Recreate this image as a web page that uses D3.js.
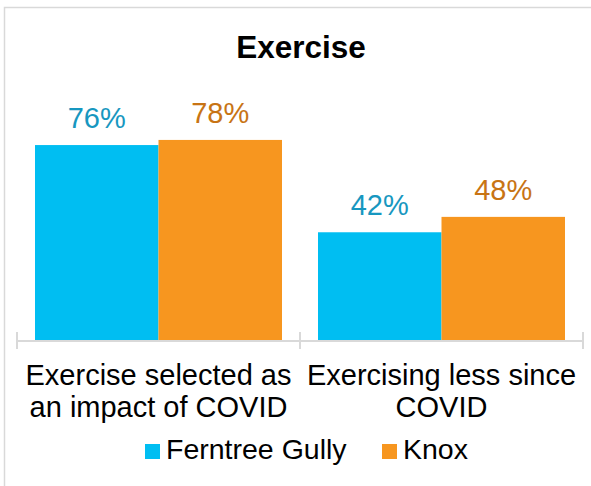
<!DOCTYPE html>
<html>
<head>
<meta charset="utf-8">
<script src="https://cdn.jsdelivr.net/npm/d3@7"></script>
<style>
  html, body { margin: 0; padding: 0; background: #fff; }
  svg { display: block; font-family: "Liberation Sans", Arial, sans-serif; }
</style>
</head>
<body>
<svg id="chart" width="591" height="486"></svg>
<script>
const title = "Exercise";
const categories = [
  ["Exercise selected as", "an impact of COVID"],
  ["Exercising less since", "COVID"]
];
const seriesNames = ["Ferntree Gully", "Knox"];
const ferntreeGully = [0.76, 0.42];
const knox = [0.78, 0.48];
const barColors = ["#00BEF2", "#F7961F"];
const labelColors = ["#1797C0", "#C87414"];

const svg = d3.select("#chart");

// chart border
svg.append("rect")
  .attr("x", 4.5).attr("y", 7.5)
  .attr("width", 620).attr("height", 520)
  .attr("fill", "none").attr("stroke", "#d9d9d9").attr("stroke-width", 1.5);

// title
svg.append("text")
  .attr("x", 301).attr("y", 57.5)
  .attr("text-anchor", "middle")
  .attr("font-size", 31.5).attr("font-weight", "bold")
  .attr("fill", "#000")
  .text(title);

const idx = d3.range(categories.length);
const x0 = d3.scaleBand().domain(idx).range([17, 583]).paddingInner(0).paddingOuter(0);
const x1 = d3.scaleBand().domain(d3.range(seriesNames.length))
  .range([18, x0.bandwidth() - 18]);
const y = d3.scaleLinear().domain([0, 1]).range([340, 83.5]);

const series = [ferntreeGully, knox];

const groups = svg.append("g").selectAll("g")
  .data(idx).join("g")
  .attr("transform", i => `translate(${x0(i)},0)`);

groups.selectAll("rect")
  .data(i => series.map((s, k) => ({ k, v: s[i] })))
  .join("rect")
  .attr("x", d => x1(d.k))
  .attr("y", d => y(d.v))
  .attr("width", x1.bandwidth())
  .attr("height", d => y(0) - y(d.v))
  .attr("fill", d => barColors[d.k]);

groups.selectAll("text.val")
  .data(i => series.map((s, k) => ({ k, v: s[i] })))
  .join("text")
  .attr("class", "val")
  .attr("x", d => x1(d.k) + x1.bandwidth() / 2)
  .attr("y", d => y(d.v) - 17)
  .attr("text-anchor", "middle")
  .attr("font-size", 29)
  .attr("fill", d => labelColors[d.k])
  .text(d => d3.format(".0%")(d.v));

// axis line and ticks at category boundaries
const axis = svg.append("g");
axis.append("line")
  .attr("x1", x0.range()[0]).attr("x2", x0.range()[1])
  .attr("y1", y(0) + 1).attr("y2", y(0) + 1)
  .attr("stroke", "#d9d9d9").attr("stroke-width", 2);
const tickPos = idx.map(i => x0(i)).concat([x0.range()[1]]);
axis.selectAll("line.tick").data(tickPos).join("line")
  .attr("class", "tick")
  .attr("x1", d => d).attr("x2", d => d)
  .attr("y1", 332).attr("y2", 349)
  .attr("stroke", "#d9d9d9").attr("stroke-width", 2);

// category labels
const catG = svg.append("g").selectAll("text")
  .data(idx).join("text")
  .attr("text-anchor", "middle")
  .attr("font-size", 29)
  .attr("fill", "#000");
catG.each(function(i) {
  const t = d3.select(this);
  categories[i].forEach((line, j) => {
    t.append("tspan")
      .attr("x", x0(i) + x0.bandwidth() / 2)
      .attr("y", 385 + j * 32)
      .text(line);
  });
});

// legend
const legendX = [145, 382];
const lg = svg.append("g").selectAll("g")
  .data(seriesNames).join("g")
  .attr("transform", (d, k) => `translate(${legendX[k]},0)`);
lg.append("rect")
  .attr("x", 0).attr("y", 444)
  .attr("width", 15).attr("height", 15)
  .attr("fill", (d, k) => barColors[k]);
lg.append("text")
  .attr("x", 21).attr("y", 458.5)
  .attr("font-size", 28.5)
  .attr("fill", "#000")
  .text(d => d);
</script>
</body>
</html>
